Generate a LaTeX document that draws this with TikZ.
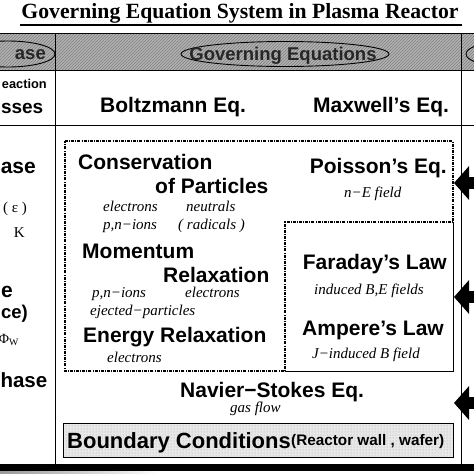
\documentclass[tikz,border=0pt]{standalone}
\usepackage{fontspec}
\setmainfont{Liberation Serif}
\setsansfont{Liberation Sans}
\usetikzlibrary{patterns,arrows.meta}

\begin{document}
\begin{tikzpicture}[x=1pt,y=-1pt,
    eq/.style={font=\sffamily\bfseries\fontsize{21}{24}\selectfont,inner sep=0pt},
    side/.style={font=\fontsize{15}{18}\selectfont,inner sep=0pt},
    note/.style={font=\itshape\fontsize{15}{18}\selectfont,inner sep=0pt},
    head/.style={font=\sffamily\bfseries\fontsize{18.5}{20}\selectfont,text=black!85,inner sep=0pt},
    dashdot/.style={line width=1.1pt,dash pattern=on 3pt off 1.2pt on 0.8pt off 1.2pt},
    bigarrow/.style={line width=12pt,-{Triangle[length=15pt,width=33pt]}}]
    \useasboundingbox (0,0) rectangle (474,474);
    \clip (0,0) rectangle (474,474);
    % title
    \node[font=\bfseries\fontsize{21.7}{24}\selectfont,anchor=base,inner sep=0pt] (title) at (240,18) {Governing Equation System in Plasma Reactor};
    \draw[line width=1.2pt] (20,25) -- (462,25);
    % header band
    \fill[gray!60] (-5,33) rectangle (480,70);
    \fill[pattern=north east lines,pattern color=black!50] (-5,33) rectangle (480,70);
    \draw[line width=1pt] (-5,33) -- (480,33) (-5,70) -- (480,70) (-5,125) -- (480,125);
    \draw[line width=0.9pt] (8,54) ellipse (47pt and 13pt);
    \draw[line width=0.9pt] (285,54) ellipse (104pt and 12.5pt);
    \draw[line width=0.9pt] (510,54) ellipse (44pt and 13pt);
    \node[head,anchor=base east] (phasehead) at (46,59) {ase};
    \node[head,anchor=base] (goveq) at (283,60) {Governing Equations};
    % columns
    \draw[line width=1pt] (55,33) -- (55,464) (461,33) -- (461,464);
    \fill (-5,464) rectangle (480,471);
    \shade[left color=gray!80,right color=white] (0,471) rectangle (160,474);
    % left column
    \node[font=\sffamily\bfseries\fontsize{12.8}{15}\selectfont,inner sep=0pt,anchor=base east] (react) at (47,88) {eaction};
    \node[eq,font=\sffamily\bfseries\fontsize{19}{22}\selectfont,anchor=base east] (proc) at (43.5,113) {sses};
    \node[eq,anchor=base east] (gas) at (36,173) {ase};
    \node[side,anchor=base east] (eps) at (27,212) {( ε )};
    \node[side,anchor=base east] (kel) at (25,237) {K};
    \node[eq,anchor=base east] (surf) at (13,297) {e};
    \node[eq,font=\sffamily\bfseries\fontsize{18.5}{22}\selectfont,anchor=base east] (inter) at (28,318) {ce)};
    \node[side,font=\fontsize{14}{17}\selectfont,anchor=base east] (phiw) at (19,343) {Φ\textsubscript{W}};
    \node[eq,font=\sffamily\bfseries\fontsize{20.5}{22}\selectfont,anchor=base east] (solid) at (47.5,387) {hase};
    % equations
    \node[eq,anchor=base west] (boltz) at (100,112) {Boltzmann Eq.};
    \node[eq,anchor=base west] (maxw) at (313,112) {Maxwell’s Eq.};
    \draw[dashdot] (65,141) -- (453,141) -- (453,222) -- (285,222) -- (285,371) -- (65,371) -- cycle;
    \draw[line width=0.8pt] (453,222) -- (453,371) -- (285,371);
    \node[eq,anchor=base west] (cons) at (78,169) {Conservation};
    \node[eq,anchor=base west] (part) at (155,193) {of Particles};
    \node[note,anchor=base west] (el1) at (103,211) {electrons};
    \node[note,anchor=base west] (neu) at (186,211) {neutrals};
    \node[note,anchor=base west] (ion1) at (103,229) {p,n−ions};
    \node[note,anchor=base west] (rad) at (178,229) {( radicals )};
    \node[eq,anchor=base west] (mom) at (82,258) {Momentum};
    \node[eq,anchor=base west] (relax) at (163,282) {Relaxation};
    \node[note,anchor=base west] (ion2) at (92,297) {p,n−ions};
    \node[note,anchor=base west] (el2) at (185,297) {electrons};
    \node[note,anchor=base west] (eject) at (90,315) {ejected−particles};
    \node[eq,anchor=base west] (energy) at (83,342) {Energy Relaxation};
    \node[note,anchor=base west] (el3) at (107,362) {electrons};
    \node[eq,anchor=base east] (poiss) at (447,173) {Poisson’s Eq.};
    \node[note,anchor=base west] (nefield) at (344,197) {n−E field};
    \node[eq,anchor=base east] (farad) at (447,269) {Faraday’s Law};
    \node[note,anchor=base west] (indbe) at (314,294) {induced B,E fields};
    \node[eq,anchor=base east] (amp) at (444,335) {Ampere’s Law};
    \node[note,anchor=base west] (jind) at (312,358) {J−induced B field};
    \node[eq,anchor=base west] (navier) at (180,397) {Navier−Stokes Eq.};
    \node[note,anchor=base west] (gasflow) at (230,412) {gas flow};
    % boundary conditions
    \filldraw[fill=gray!18,line width=0.8pt] (63,423) rectangle (453,457);
    \fill[pattern=dots,pattern color=gray!70] (63,423) rectangle (453,457);
    \draw[line width=0.8pt] (63,423) rectangle (453,457);
    \node[eq,font=\sffamily\bfseries\fontsize{22}{24}\selectfont,anchor=base west] (bound) at (67,448) {Boundary Conditions};
    \node[font=\sffamily\bfseries\fontsize{15.3}{18}\selectfont,inner sep=0pt,anchor=base west] (wall) at (291,445) {(Reactor wall , wafer)};
    % arrows from the right
    \coordinate (a1) at (485,183);
    \coordinate (t1) at (454,183);
    \coordinate (a2) at (485,297);
    \coordinate (t2) at (454,297);
    \coordinate (a3) at (485,403);
    \coordinate (t3) at (454,403);
    \draw[bigarrow] (a1) -- (t1);
    \draw[bigarrow] (a2) -- (t2);
    \draw[bigarrow] (a3) -- (t3);
\end{tikzpicture}
\end{document}
